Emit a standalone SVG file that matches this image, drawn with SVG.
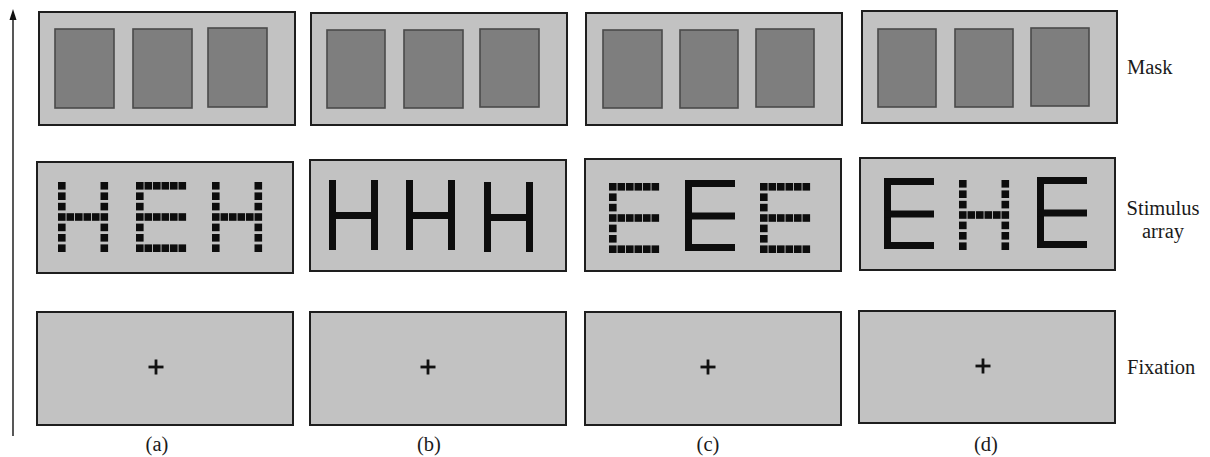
<svg xmlns="http://www.w3.org/2000/svg" xmlns:xlink="http://www.w3.org/1999/xlink" width="1210" height="457" viewBox="0 0 1210 457">
<style>
.panel{fill:#c2c2c2;stroke:#1e1e1e;stroke-width:2}
.mk{fill:#7e7e7e;stroke:#4a4a4a;stroke-width:1.6}
.ink{fill:#0d0d0d}
.ink rect{width:7.6px;height:7.6px}
.sol{fill:#0d0d0d}
.plus{stroke:#111;stroke-width:2.8;fill:none}
.lbl{font-family:"Liberation Serif","Times New Roman",serif;font-size:20.5px;fill:#1a1a1a}
.axis{stroke:#111;stroke-width:1.4;fill:none}
</style>
<defs>
<g id="dH" class="ink">
<rect x="0" y="0" width="7.6" height="7.6"/><rect x="0" y="10.4" width="7.6" height="7.6"/><rect x="0" y="20.8" width="7.6" height="7.6"/><rect x="0" y="31.2" width="7.6" height="7.6"/><rect x="0" y="41.6" width="7.6" height="7.6"/><rect x="0" y="52" width="7.6" height="7.6"/><rect x="0" y="62.4" width="7.6" height="7.6"/>
<rect x="42.5" y="0" width="7.6" height="7.6"/><rect x="42.5" y="10.4" width="7.6" height="7.6"/><rect x="42.5" y="20.8" width="7.6" height="7.6"/><rect x="42.5" y="31.2" width="7.6" height="7.6"/><rect x="42.5" y="41.6" width="7.6" height="7.6"/><rect x="42.5" y="52" width="7.6" height="7.6"/><rect x="42.5" y="62.4" width="7.6" height="7.6"/>
<rect x="8.5" y="31.2" width="7.6" height="7.6"/><rect x="17" y="31.2" width="7.6" height="7.6"/><rect x="25.5" y="31.2" width="7.6" height="7.6"/><rect x="34" y="31.2" width="7.6" height="7.6"/>
</g>
<g id="dE" class="ink">
<rect x="0" y="0" width="7.6" height="7.6"/><rect x="0" y="10.4" width="7.6" height="7.6"/><rect x="0" y="20.8" width="7.6" height="7.6"/><rect x="0" y="31.2" width="7.6" height="7.6"/><rect x="0" y="41.6" width="7.6" height="7.6"/><rect x="0" y="52" width="7.6" height="7.6"/><rect x="0" y="62.4" width="7.6" height="7.6"/>
<rect x="8.5" y="0" width="7.6" height="7.6"/><rect x="17" y="0" width="7.6" height="7.6"/><rect x="25.5" y="0" width="7.6" height="7.6"/><rect x="34" y="0" width="7.6" height="7.6"/><rect x="42.5" y="0" width="7.6" height="7.6"/>
<rect x="8.5" y="31.2" width="7.6" height="7.6"/><rect x="17" y="31.2" width="7.6" height="7.6"/><rect x="25.5" y="31.2" width="7.6" height="7.6"/><rect x="34" y="31.2" width="7.6" height="7.6"/><rect x="42.5" y="31.2" width="7.6" height="7.6"/>
<rect x="8.5" y="62.4" width="7.6" height="7.6"/><rect x="17" y="62.4" width="7.6" height="7.6"/><rect x="25.5" y="62.4" width="7.6" height="7.6"/><rect x="34" y="62.4" width="7.6" height="7.6"/><rect x="42.5" y="62.4" width="7.6" height="7.6"/>
</g>
<g id="sH" class="sol">
<rect x="0" y="0" width="7" height="70"/><rect x="42" y="0" width="7" height="70"/><rect x="0" y="32" width="49" height="7"/>
</g>
<g id="sE" class="sol">
<rect x="0" y="0" width="7" height="71"/><rect x="0" y="0" width="50" height="7"/><rect x="0" y="32.5" width="50" height="7"/><rect x="0" y="64" width="50" height="7"/>
</g>
<g id="plus" class="plus">
<line x1="-7.5" y1="0" x2="7.5" y2="0"/><line x1="0" y1="-7.5" x2="0" y2="7.5"/>
</g>
</defs>

<g id="connectors">
<line class="axis" x1="13" y1="436" x2="13" y2="18"/>
<polygon points="13,9 9.5,20 16.5,20" fill="#111"/>
</g>

<g id="mask-a">
<rect class="panel" x="39" y="12" width="256" height="113"/>
<rect class="mk" x="55" y="29" width="59" height="79"/><rect class="mk" x="133" y="29" width="59" height="79"/><rect class="mk" x="208" y="28" width="59" height="79"/>
</g>
<g id="mask-b">
<rect class="panel" x="311" y="13" width="256" height="112"/>
<rect class="mk" x="327" y="30" width="58" height="78"/><rect class="mk" x="404" y="30" width="59" height="78"/><rect class="mk" x="480" y="29" width="59" height="78"/>
</g>
<g id="mask-c">
<rect class="panel" x="586" y="13" width="256" height="112"/>
<rect class="mk" x="603" y="30" width="59" height="78"/><rect class="mk" x="680" y="30" width="58" height="78"/><rect class="mk" x="756" y="29" width="58" height="78"/>
</g>
<g id="mask-d">
<rect class="panel" x="862" y="11" width="255" height="112"/>
<rect class="mk" x="878" y="29" width="58" height="78"/><rect class="mk" x="955" y="29" width="58" height="78"/><rect class="mk" x="1031" y="28" width="58" height="78"/>
</g>

<g id="stim-a">
<rect class="panel" x="37" y="162" width="256" height="111"/>
<use xlink:href="#dH" href="#dH" x="58" y="182"/><use xlink:href="#dE" href="#dE" x="136" y="182"/><use xlink:href="#dH" href="#dH" x="212" y="182"/>
</g>
<g id="stim-b">
<rect class="panel" x="310" y="160" width="256" height="111"/>
<use xlink:href="#sH" href="#sH" x="329" y="180"/><use xlink:href="#sH" href="#sH" x="406" y="180"/><use xlink:href="#sH" href="#sH" x="484" y="182"/>
</g>
<g id="stim-c">
<rect class="panel" x="585" y="159" width="256" height="112"/>
<use xlink:href="#dE" href="#dE" x="609" y="183"/><use xlink:href="#sE" href="#sE" x="685" y="180"/><use xlink:href="#dE" href="#dE" x="760" y="183"/>
</g>
<g id="stim-d">
<rect class="panel" x="860" y="158" width="255" height="112"/>
<use xlink:href="#sE" href="#sE" x="884" y="178"/><use xlink:href="#dH" href="#dH" x="959" y="180"/><use xlink:href="#sE" href="#sE" x="1037" y="177"/>
</g>

<g id="fix-a">
<rect class="panel" x="37" y="312" width="256" height="113"/>
<use xlink:href="#plus" href="#plus" x="156" y="367"/>
</g>
<g id="fix-b">
<rect class="panel" x="310" y="312" width="256" height="113"/>
<use xlink:href="#plus" href="#plus" x="428" y="367"/>
</g>
<g id="fix-c">
<rect class="panel" x="585" y="312" width="256" height="113"/>
<use xlink:href="#plus" href="#plus" x="708" y="367"/>
</g>
<g id="fix-d">
<rect class="panel" x="859" y="311" width="256" height="112"/>
<use xlink:href="#plus" href="#plus" x="983" y="366"/>
</g>

<g id="labels">
<text class="lbl" x="1127" y="74">Mask</text>
<text class="lbl" x="1163" y="215" text-anchor="middle">Stimulus</text>
<text class="lbl" x="1163" y="238" text-anchor="middle">array</text>
<text class="lbl" x="1127" y="374">Fixation</text>
<text class="lbl" x="157" y="451" text-anchor="middle">(a)</text>
<text class="lbl" x="429" y="451" text-anchor="middle">(b)</text>
<text class="lbl" x="708" y="451" text-anchor="middle">(c)</text>
<text class="lbl" x="986" y="451" text-anchor="middle">(d)</text>
</g>
</svg>
